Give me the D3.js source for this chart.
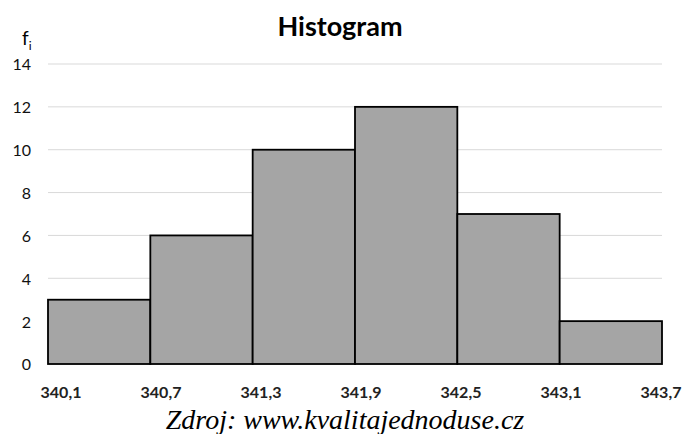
<!DOCTYPE html>
<html><head><meta charset="utf-8">
<script src="https://cdn.jsdelivr.net/npm/d3@7"></script>
<style>body{margin:0;background:#fff}</style>
</head><body>
<svg id="c" width="683" height="434"></svg>
<script>
const edges = [340.1, 340.7, 341.3, 341.9, 342.5, 343.1, 343.7];
const edgeLabels = ["340,1","340,7","341,3","341,9","342,5","343,1","343,7"];
const counts = [3, 6, 10, 12, 7, 2];
const yTicks = [0, 2, 4, 6, 8, 10, 12, 14];

const svg = d3.select("#c");
const x = d3.scaleLinear().domain([340.1, 343.7]).range([48, 662]);
const xLab = d3.scaleLinear().domain([340.1, 343.7]).range([61, 661]);
const y = d3.scaleLinear().domain([0, 14]).range([364, 64]);

// grid
svg.append("g").selectAll("line").data(yTicks).join("line")
  .attr("x1", 48).attr("x2", 662)
  .attr("y1", d => y(d)).attr("y2", d => y(d))
  .attr("stroke", "#d9d9d9").attr("stroke-width", 1);

// y labels
svg.append("g").selectAll("text").data(yTicks).join("text")
  .attr("x", 31).attr("y", d => y(d)).attr("dy", "0.4em")
  .attr("text-anchor", "end")
  .attr("font-family", "Lato, sans-serif").attr("font-size", 16).attr("fill", "#111")
  .text(d => d);

// bars
svg.append("g").selectAll("rect").data(counts).join("rect")
  .attr("x", (d, i) => x(edges[i]))
  .attr("width", (d, i) => x(edges[i + 1]) - x(edges[i]))
  .attr("y", d => y(d))
  .attr("height", d => y(0) - y(d))
  .attr("fill", "#a5a5a5").attr("stroke", "#000").attr("stroke-width", 1.8);

// x labels
svg.append("g").selectAll("text").data(edges).join("text")
  .attr("x", d => xLab(d)).attr("y", 398)
  .attr("text-anchor", "middle")
  .attr("font-family", "Lato, sans-serif").attr("font-weight", "bold").attr("font-size", 16)
  .attr("fill", "#222")
  .text((d, i) => edgeLabels[i]);

// title
svg.append("text").attr("x", 340).attr("y", 36).attr("text-anchor", "middle")
  .attr("font-family", "Lato, sans-serif").attr("font-weight", "bold").attr("font-size", 27)
  .text("Histogram");

// f_i label
const fl = svg.append("text").attr("x", 22).attr("y", 45)
  .attr("font-family", "Lato, sans-serif").attr("font-size", 19);
fl.append("tspan").text("f");
fl.append("tspan").attr("font-size", 12).attr("dy", 5).text("i");

// source
svg.append("text").attr("x", 345).attr("y", 429).attr("text-anchor", "middle")
  .attr("font-family", "Liberation Serif, serif").attr("font-style", "italic").attr("font-size", 28)
  .text("Zdroj: www.kvalitajednoduse.cz");
</script>
</body></html>
